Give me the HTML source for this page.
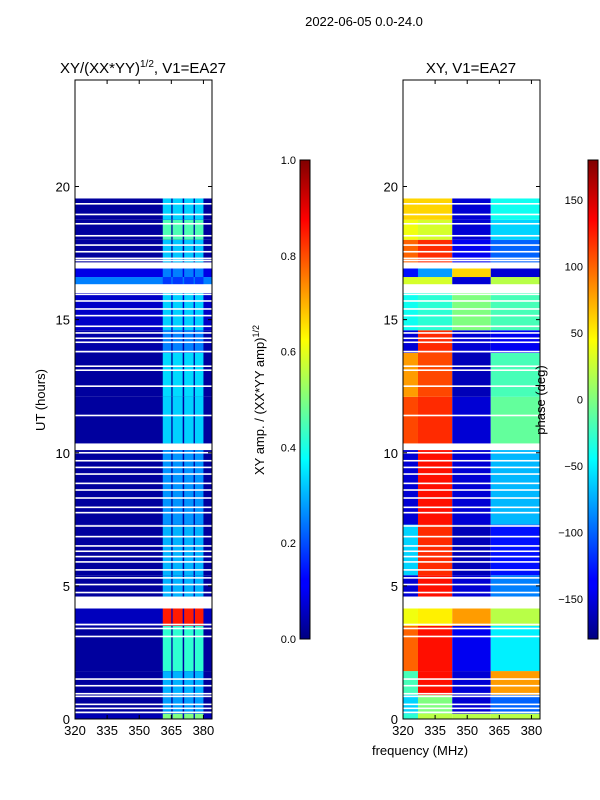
<!DOCTYPE html>
<html><head><meta charset="utf-8">
<style>
body{margin:0;background:#fff;}
svg{display:block;font-family:"Liberation Sans","DejaVu Sans",sans-serif;}
</style></head>
<body>
<svg id="fig" width="600" height="800" viewBox="0 0 600 800" xmlns="http://www.w3.org/2000/svg">
<defs>
<linearGradient id="jet" x1="0" y1="1" x2="0" y2="0">
<stop offset="0" stop-color="#000080"/><stop offset="0.11" stop-color="#0000ff"/><stop offset="0.125" stop-color="#0000ff"/>
<stop offset="0.375" stop-color="#00ffff"/><stop offset="0.625" stop-color="#ffff00"/><stop offset="0.875" stop-color="#ff0000"/><stop offset="1" stop-color="#800000"/>
</linearGradient>
</defs>
<text x="364" y="26" font-size="13" text-anchor="middle">2022-06-05 0.0-24.0</text>
<text x="143" y="73" font-size="15" text-anchor="middle">XY/(XX*YY)<tspan font-size="10" dy="-6">1/2</tspan><tspan dy="6">, V1=EA27</tspan></text>
<text x="471" y="73" font-size="15" text-anchor="middle">XY, V1=EA27</text>
<g id="ampPanel"></g>
<g id="phPanel"></g>
<g id="axes"></g>
<text transform="translate(45,400) rotate(-90)" font-size="13" text-anchor="middle">UT (hours)</text>
<text x="420" y="755" font-size="13" text-anchor="middle">frequency (MHz)</text>
<rect x="300" y="160" width="10" height="479" fill="url(#jet)" stroke="#000" stroke-width="1"/>
<rect x="588" y="160" width="10" height="479" fill="url(#jet)" stroke="#000" stroke-width="1"/>
<text transform="translate(264,400) rotate(-90)" font-size="13" text-anchor="middle">XY amp. / (XX*YY amp)<tspan font-size="9" dy="-5">1/2</tspan></text>
<text transform="translate(545,400) rotate(-90)" font-size="13" text-anchor="middle">phase (deg)</text>
</svg>
<script>
// segment data (hours) : start, end, amp background, amp band, phase regions (deg)
const segStart = [0.0,0.2,0.9,1.8,3.5,4.6,5.4,7.3,10.35,12.1,13.75,14.6,16.3,16.6,17.15,18.0,18.75];
const segEnd   = [0.2,0.9,1.8,3.5,4.15,5.4,7.3,10.1,12.1,13.75,14.6,16.0,16.6,16.95,18.0,18.75,19.55];
const ampBg    = [0.05,0.03,0.03,0.03,0.06,0.03,0.03,0.03,0.03,0.03,0.04,0.07,0.25,0.1,0.03,0.03,0.03];
const ampBand  = [0.5,0.28,0.3,0.42,0.85,0.3,0.3,0.27,0.33,0.34,0.25,0.33,0.18,0.25,0.32,0.45,0.33];
const phFar    = [-30,-60,-20,100,40,-150,-60,-150,110,80,-150,-40,30,-130,100,40,60];
const phLeft   = [20,0,130,130,50,130,120,130,120,110,120,-30,30,-80,120,30,60];
const phMid    = [20,-150,-150,-140,80,-150,-160,-150,-150,-160,-150,0,-150,60,-140,-150,-150];
const phBand   = [20,-100,80,-50,20,-90,-130,-70,-10,-20,-140,-20,20,-150,-100,-60,-40];
// flagged (blank) times in hours
const gaps = [19.35,18.95,18.6,18.15,17.8,17.55,17.3,17.22,16.95,16.3,16.05,15.95,15.7,15.4,15.15,14.75,14.5,14.3,14.15,13.8,13.25,13.1,12.5,11.4,10.3,10.2,10.0,9.7,9.45,9.2,8.85,8.6,8.3,7.95,7.75,7.25,6.85,6.5,6.3,6.1,5.9,5.6,5.3,5.05,4.75,4.5,3.55,3.4,3.1,1.5,1.25,0.95,0.85,0.55,0.4,0.25];
const subStart = [361,365.6,371,376];
const subEnd   = [365,370.3,375.4,380];
const xTicks = [320,335,350,365,380];
const yTicks = [0,5,10,15,20];
const ampTicks = [0.0,0.2,0.4,0.6,0.8,1.0];
const phTicks = [-150,-100,-50,0,50,100,150];

const NS="http://www.w3.org/2000/svg";
const topY=80,botY=719,pw=137;
const yS=h=>botY-h*(botY-topY)/24;
const xS=(x0,f)=>x0+(f-320)*pw/64;
function jet(v){v=Math.max(0,Math.min(1,v));const c=t=>Math.round(255*Math.max(0,Math.min(1,1.5-Math.abs(4*v-t))));return `rgb(${c(3)},${c(2)},${c(1)})`;}
function rect(g,x,y,w,h,fill){const r=document.createElementNS(NS,'rect');r.setAttribute('x',x);r.setAttribute('y',y);r.setAttribute('width',w);r.setAttribute('height',h);r.setAttribute('fill',fill);g.appendChild(r);return r;}
function text(g,x,y,s,anchor){const t=document.createElementNS(NS,'text');t.setAttribute('x',x);t.setAttribute('y',y);t.setAttribute('font-size','13');t.setAttribute('text-anchor',anchor);t.textContent=s;g.appendChild(t);return t;}
const ampG=document.getElementById('ampPanel'),phG=document.getElementById('phPanel'),axG=document.getElementById('axes');
const PL=75,PR=403;
const ph=v=>jet((v+180)/360);
segStart.forEach((s,i)=>{
  const y0=yS(segEnd[i]),hh=yS(s)-y0;
  let r=rect(ampG,xS(PL,320),y0,pw,hh,jet(ampBg[i]));
  
  
  subStart.forEach((f,k)=>{
    const c=rect(ampG,xS(PL,f),y0,xS(PL,subEnd[k])-xS(PL,f),hh,jet(ampBand[i]));
    
    
  });
  let z=rect(phG,xS(PR,320),y0,xS(PR,327)-xS(PR,320),hh,ph(phFar[i]));
  
  
  let a=rect(phG,xS(PR,327),y0,xS(PR,343)-xS(PR,327),hh,ph(phLeft[i]));
  
  
  let b=rect(phG,xS(PR,343),y0,xS(PR,361)-xS(PR,343),hh,ph(phMid[i]));
  
  
  let c=rect(phG,xS(PR,361),y0,xS(PR,384)-xS(PR,361),hh,ph(phBand[i]));
  
  
});
gaps.forEach(h=>{
  [PL,PR].forEach(x0=>{
    const g=rect(x0===PL?ampG:phG,x0,yS(h)-0.8,pw,1.6,'#fff');
    
    
  });
});
[PL,PR].forEach(x0=>{
  const f=rect(axG,x0,topY,pw,botY-topY,'none');f.setAttribute('stroke','#000');f.setAttribute('stroke-width','1');
  
  
  xTicks.forEach(v=>{
    const x=xS(x0,v);rect(axG,x-0.5,botY-4,1,4,'#000');rect(axG,x-0.5,topY,1,4,'#000');
    const t=text(axG,x,735,String(v),'middle');
    
    
  });
  yTicks.forEach(v=>{
    const y=yS(v);rect(axG,x0,y-0.5,4,1,'#000');rect(axG,x0+pw-4,y-0.5,4,1,'#000');
    const t=text(axG,x0-5,y+5,String(v),'end');
    
    
  });
});
ampTicks.forEach(v=>{
  const y=639-v*479;
  const t=text(axG,296,y+4,v.toFixed(1),'end');t.setAttribute('font-size','11');
  
  
});
phTicks.forEach(v=>{
  const y=399.5-v*479/360;
  const t=text(axG,583,y+4,v<0?'\u2212'+(-v):String(v),'end');t.setAttribute('font-size','11');
  
  
});
</script>
</body></html>
